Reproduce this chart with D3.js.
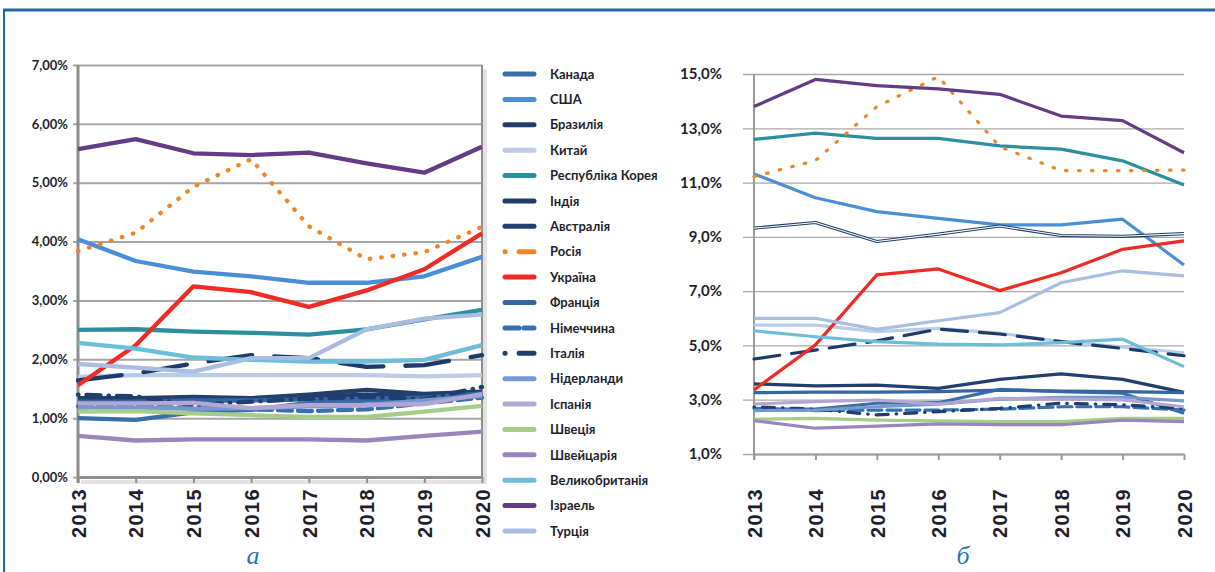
<!DOCTYPE html>
<html>
<head>
<meta charset="utf-8">
<script src="https://cdn.jsdelivr.net/npm/d3@7"></script>
<style>
  html, body { margin: 0; padding: 0; background: #fff; }
  svg { display: block; }
</style>
</head>
<body>
<div id="chart"></div>
<script>
const years = [2013, 2014, 2015, 2016, 2017, 2018, 2019, 2020];

const countries = [
  'Канада', 'США', 'Бразилія', 'Китай', 'Республіка Корея', 'Індія', 'Австралія',
  'Росія', 'Україна', 'Франція', 'Німеччина', 'Італія', 'Нідерланди', 'Іспанія',
  'Швеція', 'Швейцарія', 'Великобританія', 'Ізраель', 'Турція'
];

// chart "а", % (same order as countries)
const shareA = [
  [1.00, 0.97, 1.10, 1.14, 1.26, 1.30, 1.32, 1.42],
  [4.04, 3.67, 3.49, 3.41, 3.30, 3.30, 3.41, 3.74],
  [1.30, 1.30, 1.33, 1.32, 1.36, 1.40, 1.37, 1.43],
  [1.70, 1.73, 1.73, 1.73, 1.73, 1.73, 1.71, 1.73],
  [2.50, 2.51, 2.47, 2.45, 2.42, 2.51, 2.68, 2.84],
  [1.64, 1.76, 1.93, 2.07, 2.02, 1.87, 1.90, 2.07],
  [1.34, 1.34, 1.36, 1.34, 1.40, 1.48, 1.41, 1.45],
  [3.84, 4.15, 4.93, 5.40, 4.26, 3.70, 3.82, 4.25],
  [1.56, 2.24, 3.24, 3.14, 2.89, 3.17, 3.53, 4.14],
  [1.28, 1.28, 1.30, 1.30, 1.32, 1.33, 1.35, 1.42],
  [1.20, 1.20, 1.17, 1.15, 1.12, 1.15, 1.25, 1.35],
  [1.40, 1.37, 1.22, 1.28, 1.33, 1.36, 1.32, 1.53],
  [1.18, 1.18, 1.16, 1.17, 1.20, 1.22, 1.30, 1.38],
  [1.25, 1.25, 1.26, 1.17, 1.22, 1.22, 1.24, 1.41],
  [1.11, 1.12, 1.08, 1.05, 1.02, 1.02, 1.11, 1.21],
  [0.70, 0.62, 0.64, 0.64, 0.64, 0.62, 0.70, 0.77],
  [2.28, 2.18, 2.03, 1.99, 1.96, 1.96, 1.99, 2.24],
  [5.57, 5.74, 5.50, 5.47, 5.51, 5.33, 5.17, 5.61],
  [1.92, 1.86, 1.79, 2.02, 2.02, 2.51, 2.69, 2.76]
];

// chart "б", %
const shareB = [
  [2.65, 2.65, 2.87, 2.89, 3.38, 3.30, 3.24, 2.50],
  [11.32, 10.44, 9.93, 9.68, 9.44, 9.44, 9.65, 7.96],
  [9.32, 9.53, 8.83, 9.10, 9.40, 9.05, 9.02, 9.12],
  [5.75, 5.75, 5.51, 5.63, 5.45, 5.14, 4.95, 4.73],
  [12.59, 12.82, 12.63, 12.63, 12.35, 12.23, 11.80, 10.91],
  [4.50, 4.83, 5.17, 5.60, 5.42, 5.14, 4.89, 4.62],
  [3.58, 3.51, 3.54, 3.42, 3.75, 3.95, 3.75, 3.27],
  [11.22, 11.81, 13.80, 14.90, 12.32, 11.44, 11.44, 11.46],
  [3.36, 5.02, 7.60, 7.82, 7.02, 7.68, 8.54, 8.85],
  [3.26, 3.28, 3.28, 3.30, 3.35, 3.32, 3.30, 3.26],
  [2.68, 2.60, 2.62, 2.62, 2.65, 2.74, 2.74, 2.62],
  [2.74, 2.65, 2.44, 2.56, 2.68, 2.87, 2.81, 2.68],
  [2.60, 2.62, 2.74, 2.84, 3.02, 3.09, 3.09, 2.96],
  [2.84, 2.93, 2.99, 2.84, 3.05, 3.02, 2.99, 2.74],
  [2.28, 2.31, 2.25, 2.22, 2.19, 2.19, 2.31, 2.31],
  [2.23, 1.95, 2.03, 2.11, 2.08, 2.08, 2.25, 2.19],
  [5.54, 5.32, 5.14, 5.05, 5.02, 5.10, 5.23, 4.22],
  [13.80, 14.80, 14.57, 14.45, 14.25, 13.45, 13.28, 12.10],
  [6.00, 6.00, 5.59, 5.91, 6.21, 7.31, 7.75, 7.56]
];

const ticksA = [0, 1, 2, 3, 4, 5, 6, 7];
const ticksB = [1, 3, 5, 7, 9, 11, 13, 15];

// line look per country
const colors = [
  '#3a6ea8', '#4a8fd6', '#1f3d6b', '#b8cce8', '#2b8fa0', '#1c3b6a', '#223f6c',
  '#f08526', '#ee2b25', '#3466a2', '#3570b0', '#1f3e6d', '#7498cf', '#b3a6d2',
  '#a6cc8a', '#9984be', '#6cbdd8', '#633c85', '#a8bde0'
];
const styles = [
  'solid', 'solid', 'solid', 'solid', 'solid', 'long', 'solid',
  'dot', 'solid', 'solid', 'dash', 'dashdot', 'solid', 'solid',
  'solid', 'solid', 'solid', 'solid', 'solid'
];

const W = 1215, H = 572;
const frameBlue = '#1f68a8';
const textColor = '#1e1e2e';

const svg = d3.select('#chart')
  .append('svg')
  .attr('width', W)
  .attr('height', H);

// Outer frame (top + left blue rules)
svg.append('line')
  .attr('x1', 3).attr('x2', W)
  .attr('y1', 10).attr('y2', 10)
  .attr('stroke', frameBlue)
  .attr('stroke-width', 3);

svg.append('line')
  .attr('x1', 4).attr('x2', 4)
  .attr('y1', 9).attr('y2', H)
  .attr('stroke', frameBlue)
  .attr('stroke-width', 2);

function drawChart(cfg) {
  const x = d3.scalePoint().domain(years).range([cfg.left, cfg.right]);
  const y = d3.scaleLinear().domain(cfg.domain).range([cfg.bottom, cfg.top]);
  const g = svg.append('g');

  // shadow (chart а only)
  if (cfg.shadow) {
    g.append('path')
      .attr('d', `M${cfg.right + 3},${cfg.top + 4} V${cfg.bottom + 5} H${cfg.left + 3}`)
      .attr('fill', 'none')
      .attr('stroke', '#e2e2e2')
      .attr('stroke-width', 4);
  }

  // Gridlines + Y labels
  const yAxis = g.append('g')
    .attr('transform', `translate(${cfg.left - cfg.gridOut}, 0)`)
    .call(d3.axisLeft(y)
      .tickValues(cfg.ticks)
      .tickSize(-(cfg.right - cfg.left + cfg.gridOut))
      .tickPadding(cfg.labelPad)
      .tickFormat(d => d3.format(cfg.fmt)(d).replace('.', ',') + '%'));

  yAxis.select('.domain').remove();
  yAxis.selectAll('.tick line')
    .attr('stroke', cfg.gridColor)
    .attr('stroke-width', cfg.gridWidth);
  yAxis.selectAll('.tick text')
    .attr('fill', textColor)
    .attr('font-family', 'Lato, "Liberation Sans", sans-serif')
    .attr('font-weight', 700)
    .attr('font-size', cfg.yFont + 'px');

  // Y axis line
  g.append('line')
    .attr('x1', cfg.left).attr('x2', cfg.left)
    .attr('y1', cfg.top).attr('y2', cfg.bottom + 6)
    .attr('stroke', cfg.axisColor)
    .attr('stroke-width', cfg.axisWidth);

  if (cfg.rightBorder) {
    g.append('line')
      .attr('x1', cfg.right).attr('x2', cfg.right)
      .attr('y1', cfg.top).attr('y2', cfg.bottom)
      .attr('stroke', cfg.axisColor)
      .attr('stroke-width', 2);
  }

  // X axis
  const xAxis = g.append('g')
    .attr('transform', `translate(0, ${cfg.bottom})`)
    .call(d3.axisBottom(x).tickSize(6).tickSizeOuter(0));

  xAxis.select('.domain')
    .attr('stroke', cfg.axisColor)
    .attr('stroke-width', cfg.axisWidth);
  xAxis.selectAll('.tick line')
    .attr('stroke', cfg.axisColor)
    .attr('stroke-width', 2);
  xAxis.selectAll('.tick text')
    .attr('transform', 'rotate(-90)')
    .attr('x', -(488 - cfg.bottom))
    .attr('y', 0)
    .attr('dy', '0.36em')
    .attr('text-anchor', 'end')
    .attr('fill', textColor)
    .attr('font-family', '"Liberation Sans", Arial, sans-serif')
    .attr('font-weight', 700)
    .attr('font-size', '20px')
    .attr('letter-spacing', '1.4px');

  // Lines
  const line = d3.line()
    .x((d, i) => x(years[i]))
    .y(d => y(d));

  cfg.values.forEach((vals, i) => {
    const name = countries[i];
    const path = g.append('path')
      .datum(vals)
      .attr('fill', 'none')
      .attr('stroke', colors[i])
      .attr('stroke-width', cfg.lineWidth)
      .attr('stroke-linejoin', 'round')
      .attr('stroke-linecap', styles[i] === 'solid' ? 'butt' : 'round')
      .attr('d', line);
    const dash = cfg.dashes[styles[i]];
    if (dash) path.attr('stroke-dasharray', dash);

    // compound "double" line
    if (cfg.doubled.includes(name)) {
      g.append('path')
        .datum(vals)
        .attr('fill', 'none')
        .attr('stroke', '#ffffff')
        .attr('stroke-width', 1.1)
        .attr('d', line);
    }
  });

  // Caption letter
  svg.append('text')
    .attr('x', cfg.captionX)
    .attr('y', 564)
    .attr('text-anchor', 'middle')
    .attr('fill', '#2a74b4')
    .attr('font-family', '"Liberation Serif", "DejaVu Serif", serif')
    .attr('font-style', 'italic')
    .attr('font-size', '26px')
    .text(cfg.caption);
}

drawChart({
  values: shareA,
  domain: [0, 7],
  ticks: ticksA,
  fmt: '.2f',
  left: 78, right: 482, top: 65, bottom: 477,
  gridOut: 5,
  labelPad: 5,
  gridColor: '#a5a5a5',
  gridWidth: 2,
  axisColor: '#8c8c8c',
  axisWidth: 3,
  yFont: 13,
  lineWidth: 4.3,
  rightBorder: true,
  shadow: true,
  doubled: [],
  dashes: { dot: '0.5,11', dash: '14,6', dashdot: '0.5,8,14,8', long: '44,22' },
  caption: 'а',
  captionX: 253
});

drawChart({
  values: shareB,
  domain: [1, 15],
  ticks: ticksB,
  fmt: '.1f',
  left: 754, right: 1184, top: 74, bottom: 454,
  gridOut: 11,
  labelPad: 21,
  gridColor: '#a8a8a8',
  gridWidth: 1.3,
  axisColor: '#9a9a9a',
  axisWidth: 2,
  yFont: 15,
  lineWidth: 3.2,
  rightBorder: false,
  shadow: false,
  doubled: ['Бразилія'],
  dashes: { dot: '1.5,11.5', dash: '14,5', dashdot: '0.5,8,12,8', long: '26,12' },
  caption: 'б',
  captionX: 963
});

// Legend
const legendDash = { dot: '0.1,14,19,10', dashdot: '0.1,14,19,10', dash: '14,5' };
const legendY = d3.scalePoint().domain(countries).range([74, 531]);

const legend = svg.append('g');
countries.forEach((name, i) => {
  const ly = legendY(name);
  const sample = legend.append('line')
    .attr('x1', 505).attr('x2', 534)
    .attr('y1', ly).attr('y2', ly)
    .attr('stroke', colors[i])
    .attr('stroke-width', 5)
    .attr('stroke-linecap', 'round');
  if (legendDash[styles[i]]) sample.attr('stroke-dasharray', legendDash[styles[i]]);

  legend.append('text')
    .attr('x', 550)
    .attr('y', ly)
    .attr('dy', '0.36em')
    .attr('fill', textColor)
    .attr('font-family', 'Lato, "Liberation Sans", sans-serif')
    .attr('font-weight', 700)
    .attr('font-size', '13px')
    .text(name);
});
</script>
</body>
</html>
